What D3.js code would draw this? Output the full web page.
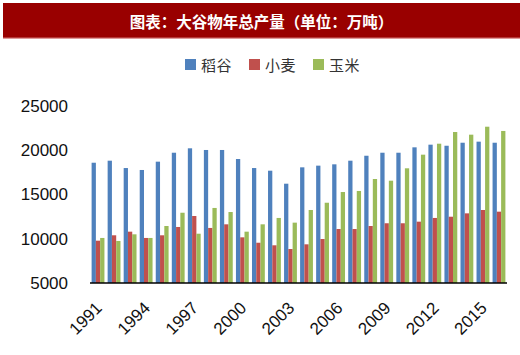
<!DOCTYPE html>
<html>
<head>
<meta charset="utf-8">
<script src="https://cdn.jsdelivr.net/npm/d3@7/dist/d3.min.js"></script>
<style>
  html, body { margin: 0; padding: 0; background: #fff; }
  svg { display: block; }
</style>
</head>
<body>
<svg id="chart" width="520" height="355"></svg>
<script>
const title = "图表：大谷物年总产量（单位：万吨）";
const seriesNames = ["稻谷", "小麦", "玉米"];
const seriesColors = ["#4F81BD", "#C0504D", "#9BBB59"];
const years = [1991,1992,1993,1994,1995,1996,1997,1998,1999,2000,2001,2002,2003,2004,2005,2006,2007,2008,2009,2010,2011,2012,2013,2014,2015,2016];
const rice  = [18590,18820,17990,17770,18710,19720,20220,20030,20030,19010,17990,17690,16220,18070,18260,18410,18820,19380,19720,19720,20330,20630,20510,20850,20970,20850];
const wheat = [9780,10390,10800,10090,10390,11330,12570,11220,11630,10160,9550,9260,8840,9370,9970,11100,11100,11440,11750,11750,11930,12350,12490,12870,13250,13060];
const corn  = [10090,9750,10500,10090,11440,12940,10570,13480,13020,10800,11630,12350,11820,13250,14070,15280,15400,16750,16560,17960,19500,20740,22060,21760,22660,22180];
const yTicks = [5000, 10000, 15000, 20000, 25000];
const xTickYears = [1991,1994,1997,2000,2003,2006,2009,2012,2015];

const seriesValues = [rice, wheat, corn];
const svg = d3.select("#chart");

// Title bar
svg.append("rect").attr("x", 3).attr("y", 3).attr("width", 517).attr("height", 35).attr("fill", "#990000");
svg.append("rect").attr("x", 3).attr("y", 37.5).attr("width", 517).attr("height", 1.2).attr("fill", "#D07070");
svg.append("text").attr("x", 261.5).attr("y", 21).attr("text-anchor", "middle").attr("dominant-baseline", "central")
  .attr("fill", "#fff").attr("font-family", "'Noto Sans CJK SC', sans-serif").attr("font-weight", "bold")
  .attr("font-size", 15.5).text(title);

// Legend
const legendX = [185, 249, 313];
const legend = svg.append("g");
seriesNames.forEach((name, i) => {
  legend.append("rect").attr("x", legendX[i]).attr("y", 59).attr("width", 11).attr("height", 11).attr("fill", seriesColors[i]);
  legend.append("text").attr("x", legendX[i] + 16).attr("y", 64.5).attr("dominant-baseline", "central")
    .attr("font-family", "'Noto Sans CJK SC', sans-serif").attr("font-size", 15).attr("fill", "#333")
    .attr("letter-spacing", 0.5).text(name);
});

// Scales
const x = d3.scaleBand().domain(years).range([90, 507]).paddingInner(0.2).paddingOuter(0.1);
const xs = d3.scaleBand().domain(d3.range(3)).range([0, x.bandwidth()]);
const y = d3.scaleLinear().domain([5000, 25000]).range([283, 106]);

// Bars
const g = svg.append("g");
seriesValues.forEach((vals, si) => {
  g.selectAll(null).data(years).enter().append("rect")
    .attr("x", (d) => x(d) + xs(si))
    .attr("y", (d, i) => y(vals[i]))
    .attr("width", xs.bandwidth())
    .attr("height", (d, i) => y(5000) - y(vals[i]))
    .attr("fill", seriesColors[si]);
});

// Y axis (labels only)
const yAxis = d3.axisLeft(y).tickValues(yTicks).tickSize(0).tickPadding(0).tickFormat(d3.format("d"));
const yg = svg.append("g").attr("transform", "translate(68,0)").call(yAxis);
yg.select(".domain").remove();
yg.selectAll("text").attr("font-family", "'Liberation Sans', Arial, sans-serif").attr("font-size", 17).attr("fill", "#111");

// X axis
const xAxis = d3.axisBottom(x).tickValues(xTickYears).tickSize(0).tickFormat(d3.format("d"));
const xg = svg.append("g").attr("transform", "translate(0,283)").call(xAxis);
xg.select(".domain").attr("stroke", "#000").attr("stroke-width", 1.6).attr("d", "M90,0H507");
xg.selectAll("text")
  .attr("x", 0).attr("y", 0).attr("dy", 0)
  .attr("text-anchor", "end")
  .attr("transform", "translate(5,26) rotate(-45)")
  .attr("font-family", "'Liberation Sans', Arial, sans-serif").attr("font-size", 17).attr("fill", "#111");
</script>
</body>
</html>
